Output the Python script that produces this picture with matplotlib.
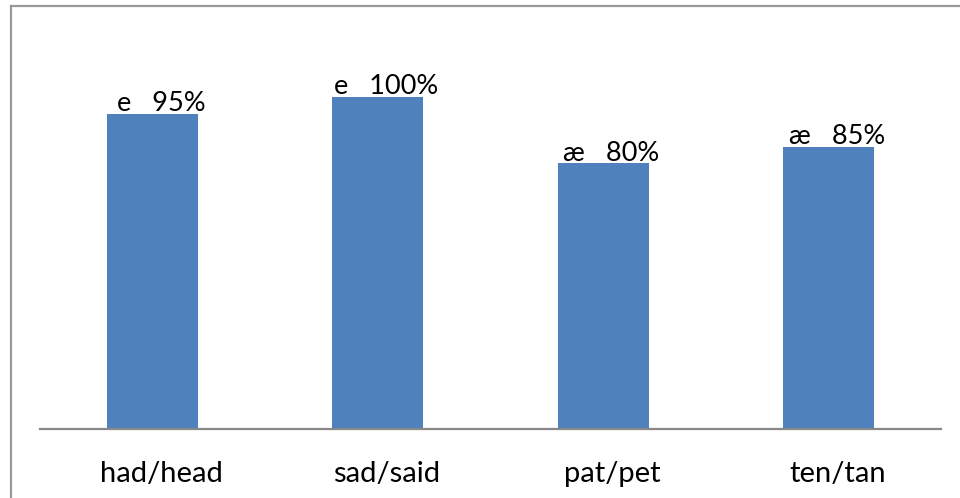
import matplotlib
matplotlib.use("Agg")
import matplotlib.pyplot as plt
from matplotlib.lines import Line2D
from matplotlib.transforms import ScaledTranslation

# data
categories = ["had/head", "sad/said", "pat/pet", "ten/tan"]
vowels = ["e", "e", "æ", "æ"]
percents = [95, 100, 80, 85]

plt.rcParams["font.family"] = ["Lato", "DejaVu Sans"]

fig = plt.figure(figsize=(9.6, 4.98), dpi=100)
W, H = 960, 498

# axes placed in pixel terms: baseline at y=429, from x=40 to x=941
ax = fig.add_axes([40 / W, (H - 429) / H, 901 / W, (429 - 30) / H])
x = list(range(len(categories)))
ax.bar(x, percents, width=0.404, color="#4F81BD", zorder=2)
ax.set_xlim(-0.5, len(categories) - 0.5)
ax.set_ylim(0, 120.2)

for xi, v, p in zip(x, vowels, percents):
    ax.annotate(f"{v}   {p}%", (xi, p), xytext=(6, 2), textcoords="offset points",
                ha="center", va="baseline", fontsize=19.5, color="black")

for s in ["top", "right", "left"]:
    ax.spines[s].set_visible(False)
ax.spines["bottom"].set_color("#888888")
ax.spines["bottom"].set_linewidth(1.6)
ax.set_yticks([])
ax.set_xticks(x)
ax.set_xticklabels(categories, fontsize=21)
ax.tick_params(axis="x", length=0, pad=23)
for lbl in ax.get_xticklabels():
    lbl.set_transform(lbl.get_transform() + ScaledTranslation(6.5 / 72, 0, fig.dpi_scale_trans))

# chart area border (top and left visible)
fig.add_artist(Line2D([11 / W, 11 / W], [0, (H - 6) / H], color="#999999", lw=1.6))
fig.add_artist(Line2D([11 / W, 1], [(H - 6) / H, (H - 6) / H], color="#999999", lw=1.6))

fig.savefig("out.png", dpi=100)
